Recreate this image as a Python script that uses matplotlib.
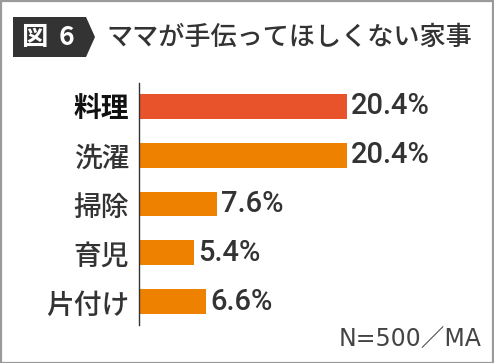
import matplotlib
matplotlib.use("Agg")
import matplotlib.pyplot as plt
from matplotlib.patches import Polygon, Rectangle

categories = ["料理", "洗濯", "掃除", "育児", "片付け"]
values = [20.4, 20.4, 7.6, 5.4, 6.6]
value_labels = ["20.4%", "20.4%", "7.6%", "5.4%", "6.6%"]
colors = ["#E8532B", "#EE8200", "#EE8200", "#EE8200", "#EE8200"]
title = "ママが手伝ってほしくない家事"
fig_label_a = "図"
fig_label_b = "6"
note = "N=500／MA"

W, H = 494, 363
fig = plt.figure(figsize=(W / 100, H / 100), dpi=100)
fig.patch.set_facecolor("white")

cjk = ["Noto Sans CJK JP", "DejaVu Sans"]

# border
fig.add_artist(Rectangle((0.5 / W, 0.5 / H), 1 - 1.5 / W, 1 - 1.5 / H, transform=fig.transFigure,
                         fill=False, edgecolor="#9a9a9a", linewidth=1.6))


def fx(px):
    return px / W


def fy(py):
    return 1 - py / H


badge = Polygon([(fx(13), fy(17)), (fx(86), fy(17)), (fx(95), fy(37)), (fx(86), fy(57)), (fx(13), fy(57))],
                closed=True, transform=fig.transFigure, facecolor="#333333", edgecolor="none")
fig.add_artist(badge)
fig.text(fx(34.5), fy(37.5), fig_label_a, color="white", fontsize=19, fontweight="bold", family=cjk,
         ha="center", va="center")
fig.text(fx(66), fy(37.5), fig_label_b, color="white", fontsize=19, fontweight="bold", family=cjk,
         ha="center", va="center")
fig.text(fx(106), fy(37.5), title, color="#333333", fontsize=18.8, fontweight="medium", family=cjk,
         ha="left", va="center")

left, right, top, bottom = 139, 480, 83, 325
ax = fig.add_axes([fx(left), fy(bottom), (right - left) / W, (bottom - top) / H])
y = list(range(len(categories)))
ax.barh(y, values, height=0.51, color=colors)
ax.set_xlim(0, (right - left) / 10.2)
ax.set_ylim(4.47, -0.47)
for s in ["top", "right", "bottom"]:
    ax.spines[s].set_visible(False)
ax.spines["left"].set_color("#333333")
ax.spines["left"].set_linewidth(1.0)
ax.set_xticks([])
ax.set_yticks(y)
ax.set_yticklabels(categories, family=cjk, fontsize=20)
ax.tick_params(axis="y", length=0, pad=7)
for i, lbl in enumerate(ax.get_yticklabels()):
    if i == 0:
        lbl.set_color("#111111")
        lbl.set_fontweight("bold")
    else:
        lbl.set_color("#333333")
        lbl.set_fontweight("medium")

for i, (v, t) in enumerate(zip(values, value_labels)):
    ax.annotate(t, (v, i), xytext=(3, 0), textcoords="offset points", va="center", ha="left",
                fontsize=21, color="#333333", family=["Roboto", "DejaVu Sans"], fontweight="medium")

fig.text(fx(481), fy(340), note, color="#444444", fontsize=17, fontweight="normal",
         family=["DejaVu Sans", "Noto Sans CJK JP"], ha="right", va="center")

fig.savefig("out.png", dpi=100)
